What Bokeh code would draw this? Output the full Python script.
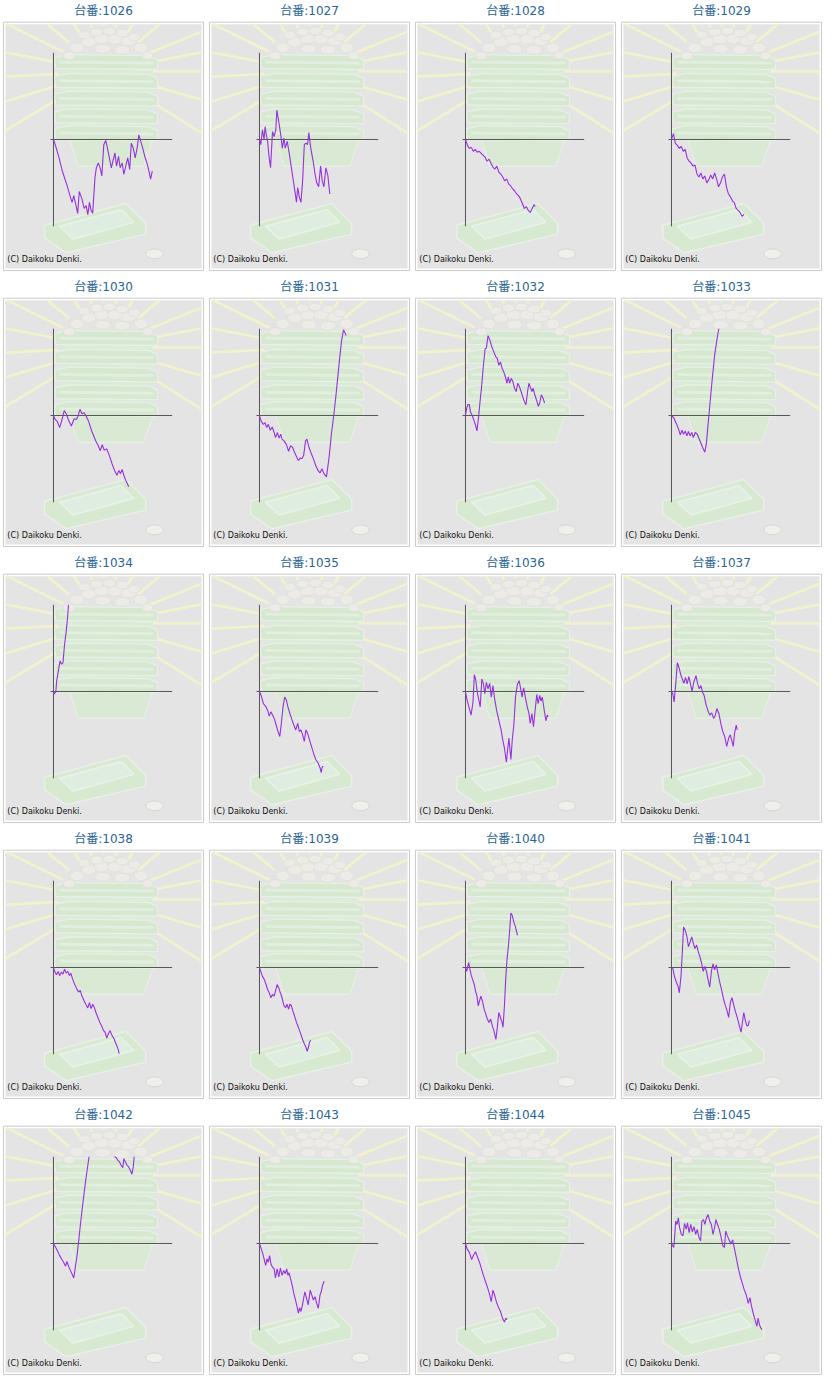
import math
from bokeh.plotting import figure
from bokeh.layouts import gridplot
from bokeh.models import Range1d
from bokeh.core.properties import value
from bokeh.embed import file_html
from bokeh.resources import INLINE

# ---------------- data (x: progress, y: balance) ----------------
machine_ids = [1026, 1027, 1028, 1029, 1030, 1031, 1032, 1033, 1034, 1035,
               1036, 1037, 1038, 1039, 1040, 1041, 1042, 1043, 1044, 1045]
title_prefix = "台番:"
copyright_text = "(C) Daikoku Denki."

pts_1026 = [(0,0),(2.3,-7),(5.7,-18.7),(9,-32),(14,-47),(17.3,-58.7),(19,-63.7),(20.7,-57),(23,-67),(24.7,-75),
            (26.3,-52.7),(29,-60.3),(31.3,-70),(33.3,-67),(35,-76.3),(36.7,-63.7),(38.3,-72),(40,-74.7),(42.3,-38.7),
            (43.7,-28.7),(45.7,-23.7),(47.7,-29.3),(49.3,-37),(51.3,-5.3),(53.3,-1),(55,-8.7),(57,-18.7),(59,-28.7),
            (61,-20.3),(62.7,-13.7),(64.3,-27),(66.3,-17),(68,-28.7),(70,-23.7),(71.7,-35.3),(73.7,-27),(75.7,-18.7),
            (77.7,-30.3),(79.3,-3.7),(81.3,-8.7),(83.3,-18.7),(85.3,-8.7),(87,4.7),(89,-2),(91,-8.7),(93,-17),
            (95.7,-25.3),(97.7,-33.7),(99,-40.3),(100.7,-32)]
pts_1027 = [(0,0),(1.3,-5.3),(3,9.7),(4.7,0),(5.7,13),(7.3,3),(8.3,-2),(9.7,-17),(11.3,-28.7),(13.3,8),(15,3),
            (16.7,10.3),(17.7,29.7),(19.7,18),(21.7,4.7),(23.3,-8.7),(25,1.3),(26.3,-8.7),(28.3,-2),(30.3,-13.7),
            (32.3,-27),(34.3,-40.3),(36.3,-53.7),(37.7,-63.7),(39,-48.7),(40.7,-58.7),(42.3,-63.7),(44,-42),
            (45.7,-5.3),(47.3,-3.7),(49,-5.3),(50.3,7),(52.3,-8.7),(54.7,-22),(56.7,-35.3),(58.3,-43.7),(60.3,-48),
            (62.3,-27),(64,-42),(65.7,-48),(67.7,-28.7),(69.7,-36.3),(71.7,-55.3)]
pts_1028 = [(0,0),(2,-6),(4,-9),(6,-8),(8,-12),(10,-10),(12,-13),(14,-12),(17,-15),(20,-18),(22,-22),(24,-20),
            (26,-24),(28,-28),(30,-30),(32,-27),(34,-33),(36,-35),(38,-38),(40,-42),(42,-40),(44,-45),(46,-47),
            (48,-50),(50,-52),(52,-55),(54,-57),(56,-60),(58,-65),(60,-70),(62,-68),(64,-72),(66,-74),(68,-70),
            (70,-66),(71,-68)]
pts_1029 = [(0,0),(2,6),(4,-4),(6,-6),(8,-9),(10,-7),(12,-12),(14,-10),(16,-19),(18,-22),(20,-24),(22,-27),
            (24,-26),(26,-35),(28,-38),(30,-34),(32,-40),(34,-37),(36,-44),(38,-41),(40,-36),(42,-40),(44,-34),
            (46,-40),(48,-48),(50,-44),(52,-38),(54,-35),(56,-48),(58,-55),(60,-58),(62,-62),(64,-64),(66,-70),
            (68,-72),(70,-74),(72,-78),(74,-76)]
pts_1030 = [(0,0),(1.7,-4),(4,-6.3),(6.3,-12.3),(8.3,-5.7),(11,5),(13,1.7),(15.7,-5.7),(18.3,-10.7),(21,-3.3),
            (23.3,-4),(25,-0.7),(27,6.3),(29,1.7),(31.3,2.7),(33.3,-0.7),(35.7,-5.7),(39,-15.7),(43,-25.7),
            (45.7,-30.7),(47.7,-35.7),(49.7,-29.7),(51.7,-35),(54.3,-34),(57,-40.7),(59.7,-49),(62.3,-55.7),
            (64.7,-60.7),(66.7,-55.7),(68.3,-59),(70,-54.7),(71.7,-60.7),(73.7,-65.7),(76.7,-72.3)]
pts_1031 = [(0,0),(1.7,-5.7),(4,-9),(5.7,-7.3),(7.3,-12.3),(9,-9),(11,-15),(13,-11.7),(15,-17.3),(16.3,-22.3),
            (18.3,-17.3),(20,-23),(21.7,-19),(23,-24),(25,-25.7),(27.3,-29),(29.7,-36.3),(31.7,-30.7),(33.7,-32.3),
            (35.7,-37.3),(37.7,-41.7),(39.7,-45.7),(41.7,-43),(43.3,-44),(45,-40.7),(47,-25.7),(48.3,-24),
            (50.3,-31.7),(52.3,-37.3),(55,-44),(57.3,-50.7),(59.7,-55.7),(61.7,-58.3),(63.7,-54),(65.7,-59),
            (68.3,-62.3),(71,-42.3),(73.3,-19),(75.7,0),(77.7,17.7),(79.7,37.7),(81.7,57.7),(83.7,76),(85.7,87),
            (87,84.3),(88.3,81)]
pts_1032 = [(0,0),(1.3,7.7),(2.3,11),(4,11),(5,3.7),(6.7,0.3),(8.3,-4),(10,-9),(11.7,-15.7),(13.3,-2.3),
            (14.7,12.7),(16.3,27.7),(18,47.7),(20,67.7),(21.3,68.3),(23,81),(25,76),(27,69.3),(29,64.3),(31,59.3),
            (32.3,58.3),(34,51),(35.7,54.3),(37.3,47.7),(39,44.3),(40.7,39.3),(42.3,32.7),(43.7,39.3),(45,32.7),
            (46.7,37.7),(48.3,34.3),(50,27.7),(51.7,24.3),(53.3,32.7),(55,29.3),(56.7,24.3),(58.3,19.3),(60,14.3),
            (61.7,11),(63.3,24.3),(64.7,32.7),(66,29.3),(67.7,24.3),(69,27.7),(70.7,21),(72.3,16),(74.3,9.3),
            (75.7,12.7),(77.3,21),(79,17.7),(80.7,12.7)]
pts_1033 = [(0,0),(2.3,-2.3),(5,-8.3),(7.3,-14),(9,-19.7),(10.7,-15),(12.3,-19),(14,-15.7),(15.7,-20.7),
            (17.3,-16.3),(19,-20.7),(20.7,-17.3),(22.3,-22.3),(24.3,-17.3),(26.3,-19),(29,-25.7),(31.7,-32.3),
            (34,-37.3),(35.7,-27.3),(37.3,-9),(39,9.3),(41.3,34.3),(44,61),(46.3,76.7),(48.3,88.3),(48.8,92)]
pts_1034 = [(0,0),(0.7,-2.3),(2.3,-0.7),(3.3,11),(5,21),(6.7,31),(8.3,27.7),(9.7,29.3),(11.3,47.7),(13,61),
            (14.3,74.3),(15.3,87.7),(16,93)]
pts_1035 = [(0,0),(1.7,-4),(4,-12.3),(6.3,-15),(8.3,-19),(10,-25),(11.7,-20.7),(13,-23),(15,-27.3),(17,-34),
            (19,-40.7),(20.7,-45.7),(22.3,-32.3),(24,-15.7),(25.7,-5.7),(27.3,-8.3),(29,-15.7),(31,-22.3),
            (33,-28.3),(35,-34),(37,-39),(39,-32.3),(40.7,-40.7),(42.3,-39),(44,-44),(45.7,-50.7),(47.3,-39),
            (49,-42.3),(51,-49),(53,-55.7),(55,-62.3),(57.3,-69),(59.7,-72.3),(61.7,-77.3),(63,-82.3),(63.7,-77.3),
            (65,-75.7)]
pts_1036 = [(0,0),(1.7,-9),(4,-17.3),(5.7,-24),(7.7,-10.7),(9,17),(10.3,12.7),(12,-0.7),(13.7,-9),(15,-15.7),
            (16.7,12.7),(18.3,7.7),(19.7,-2.3),(21.3,9.3),(23,2.7),(24.7,8.3),(26.3,-5.7),(28,6),(29.7,-7.3),
            (31.7,-19),(34,-29),(36.3,-39),(38,-49),(39.7,-57.3),(41.7,-71.7),(43,-59),(44.3,-47.3),(46.3,-69),
            (47.7,-49),(49.3,-34),(51,-5.7),(53,7.7),(54.7,11),(56.3,2.7),(57.7,-5.7),(59.3,3.7),(61,-5.7),
            (63,-15.7),(64.7,-22.3),(66,-32.3),(67.7,-22.3),(69.3,-35.7),(71,-19),(72.7,-3),(74,-12.3),(75.7,-4),
            (77,-9.7),(78.3,-5.7),(80.3,-19),(82,-29.7),(83.3,-24),(84.3,-25.7)]
pts_1037 = [(0,0),(1.3,-2.3),(2.7,-10.7),(4.3,7.7),(6,29.3),(7.7,24.3),(9.3,17.7),(11,12.7),(12.7,8.3),
            (14.3,14.3),(16,7.7),(17.7,15),(19.3,7.7),(21,0.3),(22.7,9.3),(25,16),(26.7,7.7),(28.3,2.7),(30,6),
            (31.7,-0.7),(33.3,-4),(35,-12.3),(37,-19),(39,-24),(41,-21.7),(43,-27.3),(44.7,-24),(46.3,-17.3),
            (48.3,-22.3),(50.3,-32.3),(52.3,-40.7),(54.3,-45.7),(56.3,-55.7),(58.3,-47.3),(60,-44),(61.7,-50.7),
            (63,-55.7),(64.3,-42.3),(66,-34),(67,-39)]
pts_1038 = [(0,0),(1.3,-4),(3,-7.3),(4.7,-4),(6.3,-8.3),(8,-4.7),(9.7,-6.7),(11.3,-1.7),(13,-5.7),(14.7,-4),
            (16.3,-8.3),(17.7,-5.7),(19.7,-12.3),(21.7,-17.3),(23.7,-21.7),(25.7,-25),(27.3,-23.3),(29,-29),
            (31.3,-34),(33,-37.3),(35,-41),(36.7,-35.7),(38.3,-41.7),(40,-37.3),(41.7,-40.7),(43.3,-45.7),
            (45.3,-50.7),(47.3,-55.7),(49.3,-59.7),(51,-64),(52.7,-65.7),(54.3,-71.7),(56,-67.3),(57.7,-64),
            (59.3,-68.3),(61.7,-72.3),(63.7,-77.3),(65.7,-82.3),(67,-87.3)]
pts_1039 = [(0,0),(1.3,-4),(3,-9),(5,-12.3),(6.7,-17.3),(8.3,-22.3),(10,-25.7),(11.7,-30.7),(13.3,-27.3),
            (15,-29),(16.3,-24),(18,-17.3),(19.7,-20.7),(21.3,-25.7),(23,-30.7),(25,-39),(26.7,-40.7),(28,-37.3),
            (29.7,-42.3),(31,-37.3),(32.3,-38.3),(34,-44),(35.7,-49),(37.7,-55.7),(39.7,-60.7),(41.7,-66.3),
            (43.7,-72.3),(45.7,-77.3),(47.3,-80.7),(48.7,-85),(50,-80.7),(51,-75.7),(52.3,-74)]
pts_1040 = [(0,0),(1.3,-4),(2.3,1),(3.3,5),(4.3,-0.7),(5.7,-7.3),(7.3,-12.3),(9,-17.3),(10.3,-24),(11.7,-29),
            (13,-39),(14.3,-34),(15.7,-29),(17.3,-34),(19,-42.3),(20.7,-47.3),(22.3,-52.3),(24,-55.7),(25.7,-52.3),
            (27.3,-59),(29,-64),(31,-73),(32.3,-62.3),(34,-45.7),(35.7,-50.7),(37.3,-55.7),(38.3,-60.7),(39.7,-39),
            (41,-12.3),(42.3,7.7),(44,24.3),(45.3,41),(46.3,55.3),(47.7,52.7),(49.3,46),(51,41),(53,32.7)]
pts_1041 = [(0,0),(1.3,-0.7),(3,-9),(5,-15),(6.7,-19),(8,-25.7),(9.7,-9),(11,14.3),(12.3,41),(14,37.7),
            (15.7,31.7),(17.3,21),(19,26),(20.7,31),(22.3,24.3),(24,19.3),(25.7,22.7),(27.3,16),(29,11),(30.7,4.3),
            (32.3,-4),(34,1),(35.7,-4),(37.3,-12.3),(39,-20),(40.7,-4),(42.3,3.7),(44,-2.3),(45.7,2.7),(47.3,-5.7),
            (49,-14),(51,-22.3),(53,-31.7),(55,-39),(56.7,-44),(58.3,-50.7),(60,-35.7),(61.7,-30.7),(63.3,-37.3),
            (65,-44),(67,-50.7),(69,-58.3),(71,-65.7),(72.3,-55.7),(73.7,-45.7),(75,-52.3),(76.7,-59),(78.3,-59),
            (79.3,-54)]
pts_1042 = [(0,0),(1.7,-3),(4,-7.3),(6.3,-12.3),(8.3,-15.7),(10.3,-19),(12.3,-23),(13.7,-18.3),(15.7,-24),
            (17.7,-28.3),(19.3,-31.7),(20.7,-35),(22.3,-24),(24,-12.3),(25.7,2.7),(27.3,17.7),(29,32.7),(31,49.3),
            (32.7,62.7),(34.3,74.3),(36.3,88.3),(37.7,97),(45,120),(55,118),(60.7,92.7),(61.7,88.3),(64,87),
            (65.7,84.3),(67.3,82.7),(69,79.3),(70.7,77),(71.7,86),(73.3,82.7),(75,79.3),(76.7,77.7),(78.3,74.3),
            (80,70.3),(81.3,77.7),(82.3,88.3),(83,92.7)]
pts_1043 = [(0,0),(1.3,-4),(3,-9),(4.7,-15.7),(6.3,-22.3),(7.7,-15.7),(9,-19),(10.3,-12.3),(11.7,-20.7),
            (13.3,-24),(15,-25.7),(16.3,-35),(18,-25.7),(19.7,-34),(21.3,-25),(23,-32.3),(24.7,-27.3),(26.3,-30.7),
            (27.7,-25.7),(29,-32.3),(30,-29.7),(31.7,-35.7),(33.3,-42.3),(35,-50.7),(36.7,-57.3),(38.3,-64),
            (39.7,-70.7),(41,-65),(42.3,-69),(43.7,-63),(45,-55.7),(46.3,-49),(48,-55.7),(49.7,-62.3),(51.7,-47.3),
            (53.3,-52.3),(55,-57.3),(56.7,-54),(58.3,-60.7),(60,-65.7),(61.7,-52.3),(63,-49),(64.3,-42.3),(66,-38.3)]
pts_1044 = [(0,0),(1.7,-5.7),(4,-9),(6.3,-16.3),(8.3,-11.7),(10.3,-8.3),(12.3,-14),(14.3,-19),(16.3,-25.7),
            (18.3,-32.3),(20.3,-38.3),(22.3,-44),(24.3,-50.7),(26.3,-59),(28,-47.3),(29.7,-52.3),(31.7,-59.7),
            (33.7,-65),(35.7,-69),(37.7,-75.7),(39.7,-79.7),(41.3,-75.7),(42.3,-77.3)]
pts_1045 = [(0,0),(1.3,-2.3),(2.3,-4),(3.3,7.7),(4.3,22.7),(5.7,19.3),(7,26),(8.3,16),(10,9.3),(11.7,7.7),
            (13.3,20.3),(15,14.3),(16.3,21),(18,11),(19.7,19.3),(21.3,11.7),(23,17),(24.7,9.3),(26.3,14.3),(28,6),
            (29.7,2.7),(31,22.7),(32.7,24.3),(34,19.3),(35.7,26),(37.3,29.3),(39,22.7),(40.7,19.3),(42.3,9.3),
            (44,16),(45.3,24.3),(47,19.3),(48.7,14.3),(50.7,6),(52.3,-2.3),(54,-4),(55.3,12.7),(57,7.7),(58.7,3.7),
            (60.7,-0.7),(62.3,3.7),(64.3,-5.7),(66.3,-15.7),(68.3,-25.7),(70.3,-34),(72.3,-40.7),(74.3,-47.3),
            (76.3,-52.3),(78.3,-60.7),(80,-55),(81.7,-64),(83.7,-72.3),(85.7,-79),(87,-84),(88.3,-75.7),
            (89.7,-82.3),(91,-85.7),(92.3,-87.3)]

series = {1026: pts_1026, 1027: pts_1027, 1028: pts_1028, 1029: pts_1029, 1030: pts_1030,
          1031: pts_1031, 1032: pts_1032, 1033: pts_1033, 1034: pts_1034, 1035: pts_1035,
          1036: pts_1036, 1037: pts_1037, 1038: pts_1038, 1039: pts_1039, 1040: pts_1040,
          1041: pts_1041, 1042: pts_1042, 1043: pts_1043, 1044: pts_1044, 1045: pts_1045}

Y_LIMIT = 88          # chart value range shown (+/-)
X_AXIS_MIN, X_AXIS_MAX = -3, 121

# ---------------- helpers ----------------
OX, OY = 54, 141      # origin of the chart inside a cell (cell units, y downward)


def L(lx, ly):
    return lx - OX, OY - ly


def clip_series(pts, lo, hi):
    """cut the polyline where it leaves the value range (NaN breaks)"""
    xs, ys = [], []
    nan = float("nan")
    for i, (x, y) in enumerate(pts):
        inside = lo <= y <= hi
        if i > 0:
            px, py = pts[i - 1]
            pin = lo <= py <= hi
            if pin and not inside:
                b = hi if y > hi else lo
                t = (b - py) / (y - py)
                xs += [px + t * (x - px), nan]
                ys += [b, nan]
            elif (not pin) and inside:
                b = hi if py > hi else lo
                t = (b - py) / (y - py)
                xs.append(px + t * (x - px))
                ys.append(b)
        if inside:
            xs.append(x)
            ys.append(y)
    return xs, ys


def poly(points):
    xs, ys = zip(*[L(a, b) for a, b in points])
    return list(xs), list(ys)


# decoration geometry (cell units)
RAY_CENTER = (105, 72)
RAY_ANGLES = [-32, -16, 0, 11, 22, 40, 58, 75, 90, 105, 122, 140, 154, 169, 183, 197, 211]
INNER = (5, 205, 24, 272)


def ray_segments():
    x0s, y0s, x1s, y1s = [], [], [], []
    cx, cy = RAY_CENTER
    for a in RAY_ANGLES:
        dx, dy = math.cos(math.radians(a)), -math.sin(math.radians(a))
        ts = []
        if dx > 1e-9: ts.append((INNER[1] - cx) / dx)
        if dx < -1e-9: ts.append((INNER[0] - cx) / dx)
        if dy > 1e-9: ts.append((INNER[3] - cy) / dy)
        if dy < -1e-9: ts.append((INNER[2] - cy) / dy)
        t = min(ts)
        r0 = 46
        a0 = L(cx + r0 * dx, cy + r0 * dy)
        a1 = L(cx + t * dx, cy + t * dy)
        x0s.append(a0[0]); y0s.append(a0[1]); x1s.append(a1[0]); y1s.append(a1[1])
    return x0s, y0s, x1s, y1s


RAYS = ray_segments()

COINS = [(70, 56, 12, 8), (78, 48, 14, 10), (90, 42, 15, 10), (103, 39, 15, 10), (117, 39, 15, 10),
         (131, 41, 15, 10), (143, 48, 14, 10), (150, 56, 11, 8), (85, 35, 12, 8), (98, 32, 13, 8),
         (111, 31, 13, 8), (124, 33, 13, 8), (136, 37, 12, 8), (104, 49, 16, 9), (124, 50, 16, 9)]
TRAY_TOPS = [57, 76, 94, 112, 129]

W, H = 206, 276


def make_panel(mid):
    p = figure(width=W, height=H, x_range=Range1d(-OX, 210 - OX), y_range=Range1d(OY - 280, OY),
               output_backend="svg", toolbar_location=None, x_axis_location=None, y_axis_location=None,
               min_border=0, min_border_left=0, min_border_right=0, min_border_top=0, min_border_bottom=0)
    p.grid.visible = False
    p.outline_line_color = None
    p.background_fill_color = "white"
    p.border_fill_color = "white"

    # panel frame
    l, t = L(3, 22); r, b = L(207, 274)
    p.quad(left=l, right=r, top=t, bottom=b, fill_color="white", line_color="#cacaca", line_width=1)
    l, t = L(5, 24); r, b = L(205, 272)
    p.quad(left=l, right=r, top=t, bottom=b, fill_color="#e4e4e4", line_color=None)

    # faint background picture
    p.segment(x0=RAYS[0], y0=RAYS[1], x1=RAYS[2], y1=RAYS[3], line_color="#f2f2cc", line_width=2.6)
    bx, by = poly([(62, 55), (155, 55), (155, 140), (62, 140)])
    p.patch(bx, by, fill_color="#dceada", line_color=None)
    bx, by = poly([(70, 139), (156, 139), (146, 168), (79, 168)])
    p.patch(bx, by, fill_color="#d9e9d4", line_color="#e6efe3", line_width=1.2)
    for tt in TRAY_TOPS:
        bx, by = poly([(55, tt + 1), (70, tt - 2), (150, tt - 1), (160, tt + 3), (160, tt + 13), (56, tt + 12)])
        p.patch(bx, by, fill_color="#d6e8d0", line_color="#e7f0e4", line_width=1.3)
        bx, by = poly([(60, tt + 4), (156, tt + 5), (156, tt + 8), (60, tt + 7)])
        p.patch(bx, by, fill_color="#e2eedf", line_color=None)
    cxs = [L(c[0], c[1])[0] for c in COINS]
    cys = [L(c[0], c[1])[1] for c in COINS]
    p.ellipse(x=cxs, y=cys, width=[c[2] for c in COINS], height=[c[3] for c in COINS],
              fill_color="#ecebe6", line_color="#e0e0da", line_width=0.8)
    bx, by = poly([(45, 228), (128, 206), (148, 226), (148, 237), (67, 256), (45, 241)])
    p.patch(bx, by, fill_color="#d8e9d2", line_color="#e8f1e5", line_width=1.5)
    bx, by = poly([(60, 229), (123, 212), (136, 225), (74, 242)])
    p.patch(bx, by, fill_color="#dfede0", line_color="#e9f2e6", line_width=1.5)
    ex, ey = L(157, 257)
    p.ellipse(x=[ex], y=[ey], width=[18], height=[10], fill_color="#efefec", line_color="#d8d8d3", line_width=1)

    # chart axes
    p.segment(x0=[0, X_AXIS_MIN], y0=[Y_LIMIT, 0], x1=[0, X_AXIS_MAX], y1=[-Y_LIMIT, 0],
              line_color="#555555", line_width=1)

    # balance line
    xs, ys = clip_series(series[mid], -Y_LIMIT, Y_LIMIT)
    p.line(xs, ys, line_color="#9630e0", line_width=1.1)

    # texts
    tx, ty = L(7, 263)
    p.text(x=[tx], y=[ty], text=[copyright_text], text_font=value("DejaVu Sans"), text_font_size="8px",
           text_color="#111111", text_baseline="alphabetic", text_align="left")
    tx, ty = L(105, 11)
    p.text(x=[tx], y=[ty], text=[f"{title_prefix}{mid}"], text_font=value("DejaVu Sans, Noto Sans CJK JP"),
           text_font_size="12px", text_color="#2a6494", text_baseline="middle", text_align="center")
    return p


figs = [make_panel(m) for m in machine_ids]
grid = gridplot(figs, ncols=4, toolbar_location=None)

open("out.html", "w").write(file_html(grid, INLINE))
